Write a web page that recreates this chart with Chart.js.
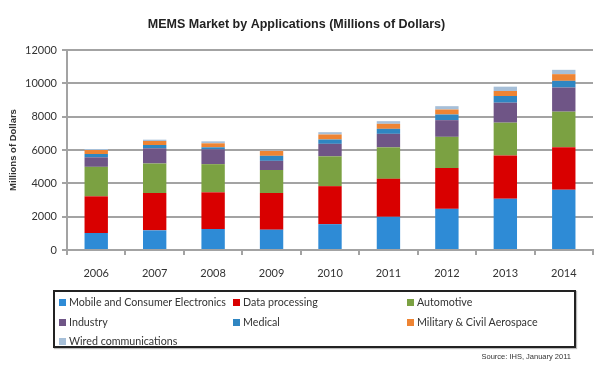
<!DOCTYPE html>
<html>
<head>
<meta charset="utf-8">
<script src="https://cdn.jsdelivr.net/npm/chart.js@4"></script>
<style>
  body { margin: 0; background: #fff; }
  #wrap { position: relative; width: 600px; height: 368px; overflow: hidden; }
  #chart { position: absolute; left: 0; top: 0; }
  #legend {
    position: absolute; left: 53px; top: 290px; width: 519px; height: 54px;
    border: 2px solid #222; box-shadow: 1px 1px 1px #bbb;
    font: 10.7px Lato, "Open Sans", sans-serif; color: #333;
  }
  .item { position: absolute; white-space: nowrap; line-height: 12px; }
  .item i { display: inline-block; width: 7px; height: 7px; margin-right: 3px; vertical-align: 0px; }
  #source { position: absolute; right: 29px; top: 352px; font: 7.5px "Liberation Sans", Arial, sans-serif; color: #333; }
</style>
</head>
<body>
<div id="wrap">
  <canvas id="chart" width="600" height="290"></canvas>
  <div id="legend"></div>
  <div id="source">Source: IHS, January 2011</div>
</div>
<script>
// years and segment values (millions of dollars)
const years = ['2006', '2007', '2008', '2009', '2010', '2011', '2012', '2013', '2014'];
const mobile = [1020, 1180, 1260, 1220, 1550, 1990, 2470, 3080, 3620];
const dataProcessing = [2200, 2240, 2200, 2200, 2280, 2280, 2450, 2590, 2550];
const automotive = [1770, 1770, 1690, 1380, 1790, 1890, 1870, 1970, 2130];
const industry = [570, 910, 890, 550, 750, 810, 1000, 1200, 1450];
const medical = [200, 200, 120, 300, 260, 300, 340, 400, 400];
const military = [240, 240, 240, 300, 300, 300, 300, 300, 400];
const wired = [60, 80, 120, 50, 140, 160, 200, 260, 260];
const yTicks = [0, 2000, 4000, 6000, 8000, 10000, 12000];

const series = [
  { label: 'Mobile and Consumer Electronics', data: mobile, color: '#2e8bd6' },
  { label: 'Data processing', data: dataProcessing, color: '#d90000' },
  { label: 'Automotive', data: automotive, color: '#7ba142' },
  { label: 'Industry', data: industry, color: '#6f5586' },
  { label: 'Medical', data: medical, color: '#2f86c2' },
  { label: 'Military & Civil Aerospace', data: military, color: '#ee8433' },
  { label: 'Wired communications', data: wired, color: '#a6bfd8' }
];

// legend in 3 columns like the original
const cols = [4, 178, 352];
const rows = [4, 24, 43];
document.getElementById('legend').innerHTML = series.map((s, i) => `
  <div class="item" style="left:${cols[i % 3]}px;top:${rows[Math.floor(i / 3)]}px">
    <i style="background:${s.color}"></i>${s.label}
  </div>`).join('');

const gridGray = '#a3a3a3';

new Chart(document.getElementById('chart'), {
  type: 'bar',
  data: {
    labels: years,
    datasets: series.map(s => ({
      label: s.label,
      data: s.data,
      backgroundColor: s.color,
      categoryPercentage: 1,
      barPercentage: 0.4
    }))
  },
  options: {
    responsive: false,
    animation: false,
    layout: { padding: { left: 0, right: 7, top: 0, bottom: 0 } },
    plugins: {
      legend: { display: false },
      tooltip: { enabled: false },
      title: {
        display: true,
        text: 'MEMS Market by Applications (Millions of Dollars)',
        color: '#222',
        font: { family: 'Liberation Sans, Arial, sans-serif', size: 12.5, weight: 'bold', lineHeight: 1.2 },
        padding: { top: 17, bottom: 18 }
      }
    },
    scales: {
      x: {
        stacked: true,
        afterFit: s => { s.height = 40; },
        grid: { display: true, drawOnChartArea: false, drawTicks: true, tickLength: 5, color: gridGray, lineWidth: 2 },
        border: { color: gridGray, width: 2 },
        ticks: { color: '#333', padding: 12, font: { family: 'Lato, sans-serif', size: 11 } }
      },
      y: {
        stacked: true,
        min: 0,
        max: 12000,
        afterFit: s => { s.width = 67; },
        afterBuildTicks: s => { s.ticks = yTicks.map(v => ({ value: v })); },
        title: {
          display: true,
          text: 'Millions of Dollars',
          color: '#333',
          font: { family: 'Liberation Sans, Arial, sans-serif', size: 9.5, weight: 'bold' },
          padding: { top: 8, bottom: 0 }
        },
        grid: { color: gridGray, lineWidth: 2, tickLength: 5 },
        border: { color: gridGray, width: 2 },
        ticks: {
          color: '#333',
          padding: 5,
          font: { family: 'Lato, sans-serif', size: 11 },
          callback: v => String(v)
        }
      }
    }
  }
});
</script>
</body>
</html>
